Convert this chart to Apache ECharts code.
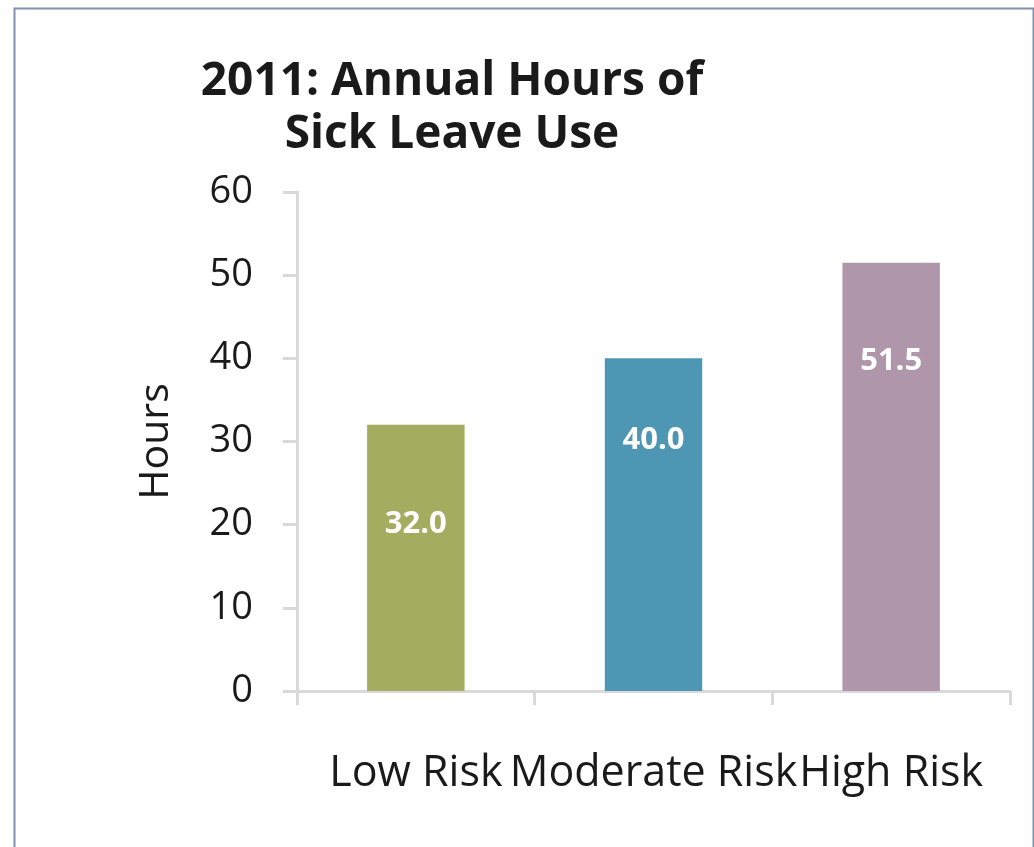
<!DOCTYPE html>
<html>
<head>
<meta charset="utf-8">
<script src="https://cdn.jsdelivr.net/npm/echarts@6/dist/echarts.min.js"></script>
<style>
  html, body { margin: 0; padding: 0; background: #ffffff; }
  #chart { width: 1034px; height: 847px; }
</style>
</head>
<body>
<div id="chart"></div>
<script>
// Risk groups and their annual sick leave hours (2011)
const categories = ['Low Risk', 'Moderate Risk', 'High Risk'];
const hours = [32.0, 40.0, 51.5];
const barColors = ['#a3ad5f', '#4e97b4', '#b096aa'];
const yTicks = [0, 10, 20, 30, 40, 50, 60];

// how far each value label sits below the top of its bar
const labelDistances = [84, 66, 83];

const chart = echarts.init(document.getElementById('chart'));

const axisGrey = '#d9d9d9';
const textDark = '#1a1a1a';

chart.setOption({
  backgroundColor: '#ffffff',
  animation: false,
  title: {
    text: '2011: Annual Hours of\nSick Leave Use',
    left: 447,
    top: 50,
    textAlign: 'center',
    textStyle: {
      fontFamily: 'Open Sans',
      fontWeight: 'bold',
      fontSize: 46,
      lineHeight: 53,
      color: textDark
    }
  },
  graphic: [{
    type: 'rect',
    left: 12,
    top: 6,
    shape: { width: 1019, height: 900 },
    style: { fill: 'none', stroke: '#7f90b0', lineWidth: 2 },
    silent: true
  }],
  grid: { left: 297, right: 24, top: 192, bottom: 156 },
  xAxis: {
    type: 'category',
    data: categories,
    axisLine: { lineStyle: { color: axisGrey, width: 3 } },
    axisTick: { show: true, alignWithLabel: false, length: 14, lineStyle: { color: axisGrey, width: 3 } },
    axisLabel: {
      margin: 61,
      fontFamily: 'Open Sans',
      fontSize: 43,
      color: textDark,
      interval: 0
    }
  },
  yAxis: {
    type: 'value',
    min: 0,
    max: 60,
    interval: 10,
    name: 'Hours',
    nameLocation: 'middle',
    nameGap: 120,
    nameRotate: 90,
    nameTextStyle: { fontFamily: 'Open Sans', fontSize: 41, color: textDark },
    axisLine: { show: true, lineStyle: { color: axisGrey, width: 3 } },
    axisTick: { show: true, length: 14, lineStyle: { color: axisGrey, width: 3 } },
    splitLine: { show: false },
    axisLabel: {
      margin: 44,
      fontFamily: 'Open Sans',
      fontSize: 38,
      color: textDark,
      formatter: v => yTicks.includes(v) ? String(v) : ''
    }
  },
  series: [{
    type: 'bar',
    barWidth: '41%',
    data: hours.map((v, i) => ({
      value: v,
      itemStyle: { color: barColors[i] },
      label: { distance: labelDistances[i] }
    })),
    label: {
      show: true,
      position: 'insideTop',
      color: '#ffffff',
      fontFamily: 'Open Sans',
      fontWeight: 'bold',
      fontSize: 31,
      formatter: p => p.value.toFixed(1)
    }
  }]
});
</script>
</body>
</html>
